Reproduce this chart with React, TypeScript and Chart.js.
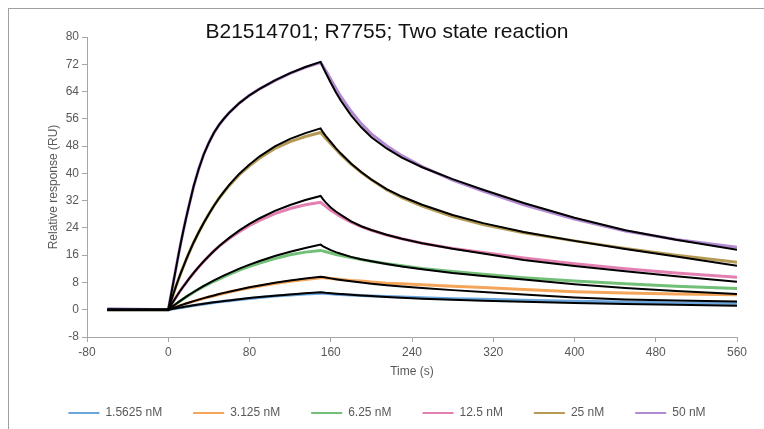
import React, { useEffect, useRef } from "react";
import { Chart, registerables } from "chart.js";

Chart.register(...registerables);

const TITLE = "B21514701; R7755; Two state reaction";
const X_TITLE = "Time (s)";
const Y_TITLE = "Relative response (RU)";
const SERIES_LABELS = ["1.5625 nM", "3.125 nM", "6.25 nM", "12.5 nM", "25 nM", "50 nM"];
const SERIES_COLORS = ["#6aa6dd", "#f5a55a", "#72bf78", "#e37fb1", "#b49a55", "#b28ad1"];

const X_MIN = -80;
const X_MAX = 560;
const X_STEP = 80;
const Y_MIN = -8;
const Y_MAX = 80;
const Y_STEP = 8;

// time points (s)
const TIMES = [-60, 0, 2.5, 5, 7.5, 10, 12.5, 15, 17.5, 20, 25, 30, 35, 40, 45, 50, 55, 60, 70, 80, 90, 105, 120, 135, 150, 152.5, 155, 160, 165, 170, 180, 190, 200, 215, 230, 250, 280, 310, 350, 400, 450, 500, 560];

// measured responses (RU)
const DATA_1_5625 = [0, 0, 0.13, 0.25, 0.38, 0.5, 0.63, 0.75, 0.88, 1.0, 1.22, 1.45, 1.68, 1.9, 2.1, 2.3, 2.48, 2.65, 2.98, 3.3, 3.6, 4.0, 4.35, 4.6, 4.85, 4.8, 4.75, 4.65, 4.57, 4.5, 4.35, 4.2, 4.05, 3.85, 3.7, 3.5, 3.25, 3.05, 2.8, 2.5, 2.25, 2.0, 1.8];
const DATA_3_125 = [0, 0, 0.27, 0.52, 0.78, 1.04, 1.28, 1.53, 1.77, 2.0, 2.45, 2.9, 3.32, 3.72, 4.1, 4.48, 4.85, 5.2, 5.82, 6.42, 6.95, 7.7, 8.35, 8.9, 9.4, 9.35, 9.3, 9.15, 9.02, 8.9, 8.6, 8.4, 8.1, 7.8, 7.6, 7.3, 6.9, 6.5, 5.9, 5.3, 4.9, 4.6, 4.4];
const DATA_6_25 = [0, 0, 0.57, 1.1, 1.65, 2.2, 2.7, 3.2, 3.7, 4.2, 5.1, 6.0, 6.85, 7.6, 8.35, 9.0, 9.7, 10.4, 11.6, 12.7, 13.7, 15.0, 16.1, 16.9, 17.4, 17.2, 17.0, 16.6, 16.2, 15.9, 15.3, 14.7, 14.2, 13.5, 12.9, 12.1, 11.2, 10.4, 9.4, 8.4, 7.6, 6.9, 6.2];
const DATA_12_5 = [0, 0, 1.24, 2.45, 3.61, 4.74, 5.85, 6.89, 7.9, 8.9, 10.78, 12.55, 14.23, 15.77, 17.24, 18.6, 19.75, 20.9, 22.9, 24.7, 26.2, 28.2, 29.7, 30.8, 31.5, 30.9, 30.3, 29.2, 28.2, 27.3, 25.7, 24.4, 23.3, 21.9, 20.8, 19.5, 18.0, 16.8, 15.2, 13.5, 12.0, 10.8, 9.5];
const DATA_25 = [0, 0, 2.36, 4.62, 6.79, 8.87, 10.86, 12.75, 14.6, 16.4, 19.73, 22.74, 25.5, 28.1, 30.5, 32.7, 34.6, 36.4, 39.6, 42.2, 44.5, 47.3, 49.3, 50.8, 52.0, 51.2, 50.3, 48.7, 47.1, 45.5, 42.7, 40.3, 38.1, 35.2, 32.9, 30.4, 27.3, 25.0, 22.6, 20.2, 18.0, 16.0, 13.9];
const DATA_50 = [0.3, 0, 4.0, 8.0, 12.0, 16.0, 19.8, 23.4, 26.8, 30.0, 36.2, 41.3, 45.6, 49.0, 51.9, 54.2, 56.1, 57.8, 60.6, 62.9, 64.8, 67.2, 69.3, 71.1, 72.5, 71.4, 70.2, 67.6, 65.0, 62.5, 58.2, 54.6, 51.6, 48.1, 45.2, 42.0, 38.0, 34.8, 30.8, 26.6, 23.1, 20.6, 18.3];

// fitted curves (RU)
const FIT_1_5625 = [0, 0, 0.14, 0.28, 0.41, 0.55, 0.68, 0.8, 0.93, 1.05, 1.29, 1.52, 1.74, 1.96, 2.16, 2.36, 2.55, 2.74, 3.09, 3.41, 3.71, 4.12, 4.48, 4.8, 5.1, 5.02, 4.95, 4.85, 4.72, 4.6, 4.4, 4.2, 4.0, 3.75, 3.5, 3.25, 2.9, 2.65, 2.35, 2.0, 1.7, 1.45, 1.2];
const FIT_3_125 = [0, 0, 0.28, 0.54, 0.81, 1.07, 1.32, 1.57, 1.82, 2.06, 2.52, 2.97, 3.4, 3.81, 4.2, 4.59, 4.95, 5.3, 5.96, 6.58, 7.13, 7.9, 8.58, 9.18, 9.7, 9.57, 9.45, 9.2, 8.97, 8.75, 8.35, 8.0, 7.65, 7.2, 6.8, 6.35, 5.75, 5.2, 4.5, 3.6, 3.0, 2.7, 2.4];
const FIT_6_25 = [0, 0, 0.58, 1.13, 1.68, 2.22, 2.74, 3.25, 3.76, 4.26, 5.2, 6.11, 6.97, 7.79, 8.58, 9.33, 10.06, 10.75, 12.04, 13.23, 14.31, 15.76, 17.02, 18.13, 19.1, 18.6, 18.2, 17.5, 16.9, 16.4, 15.5, 14.8, 14.2, 13.4, 12.7, 11.9, 10.8, 9.9, 8.9, 7.5, 6.4, 5.5, 4.6];
const FIT_12_5 = [0, 0, 1.24, 2.45, 3.61, 4.74, 5.85, 6.89, 7.9, 8.9, 10.78, 12.55, 14.23, 15.77, 17.24, 18.6, 19.89, 21.07, 23.26, 25.17, 26.84, 28.98, 30.73, 32.17, 33.38, 32.4, 31.5, 30.0, 28.8, 27.8, 25.9, 24.5, 23.4, 22.0, 20.8, 19.5, 17.9, 16.5, 14.6, 12.8, 11.3, 9.8, 8.2];
const FIT_25 = [0, 0, 2.36, 4.62, 6.79, 8.87, 10.86, 12.75, 14.6, 16.4, 19.73, 22.74, 25.5, 28.1, 30.5, 32.7, 34.7, 36.6, 39.9, 42.6, 45.0, 47.9, 50.1, 51.8, 53.2, 52.0, 51.0, 49.2, 47.4, 45.8, 42.9, 40.4, 38.2, 35.4, 33.2, 30.8, 27.8, 25.4, 22.8, 20.2, 17.8, 15.6, 12.9];
const FIT_50 = [0, 0, 4.0, 8.0, 12.0, 16.0, 19.8, 23.4, 26.8, 30.0, 36.2, 41.3, 45.6, 49.0, 51.9, 54.2, 56.1, 57.8, 60.6, 62.9, 64.8, 67.3, 69.4, 71.2, 72.7, 71.0, 69.5, 66.6, 63.8, 61.3, 57.0, 53.5, 50.6, 47.3, 44.6, 41.8, 38.3, 35.2, 31.3, 27.0, 23.3, 20.5, 17.6];

const MEASURED = [DATA_1_5625, DATA_3_125, DATA_6_25, DATA_12_5, DATA_25, DATA_50];
const FITTED = [FIT_1_5625, FIT_3_125, FIT_6_25, FIT_12_5, FIT_25, FIT_50];

const FONT = "'Liberation Sans', Arial, sans-serif";
const TEXT_COLOR = "#595959";
const AXIS_COLOR = "#a6a6a6";

export default function App() {
  const canvasRef = useRef<HTMLCanvasElement | null>(null);

  useEffect(() => {
    const canvas = canvasRef.current;
    if (!canvas) return;
    const toPoints = (vals: number[]) => TIMES.map((t, i) => ({ x: t, y: vals[i] }));

    const measuredSets = MEASURED.map((vals, i) => ({
      label: SERIES_LABELS[i],
      data: toPoints(vals),
      borderColor: SERIES_COLORS[i],
      backgroundColor: SERIES_COLORS[i],
      borderWidth: 3,
      pointRadius: 0,
      tension: 0,
      order: 1,
    }));
    const fitSets = FITTED.map((vals, i) => ({
      label: SERIES_LABELS[i] + " fit",
      data: toPoints(vals),
      borderColor: "#000000",
      backgroundColor: "#000000",
      borderWidth: 2,
      pointRadius: 0,
      tension: 0,
      order: 0,
    }));

    const chart = new Chart(canvas, {
      type: "line",
      data: { datasets: [...measuredSets, ...fitSets] as any },
      options: {
        responsive: false,
        animation: false,
        events: [],
        layout: { padding: { left: 28, right: 27, top: 0, bottom: 0 } },
        plugins: {
          title: {
            display: true,
            text: TITLE,
            color: "#111111",
            font: { family: FONT, size: 21, weight: "normal" as any },
            padding: { top: 11, bottom: -8.2 },
          },
          legend: {
            position: "bottom",
            labels: {
              boxWidth: 31,
              boxHeight: 2,
              padding: 31,
              color: TEXT_COLOR,
              font: { family: FONT, size: 12 },
              generateLabels: () =>
                SERIES_LABELS.map((text, i) => ({
                  text,
                  fillStyle: SERIES_COLORS[i],
                  strokeStyle: SERIES_COLORS[i],
                  lineWidth: 0,
                  hidden: false,
                  datasetIndex: i,
                  fontColor: TEXT_COLOR,
                })),
            },
          },
          tooltip: { enabled: false },
        },
        scales: {
          x: {
            type: "linear",
            min: X_MIN,
            max: X_MAX,
            ticks: { stepSize: X_STEP, color: TEXT_COLOR, font: { family: FONT, size: 12 }, padding: 3, maxRotation: 0 },
            grid: { display: true, drawOnChartArea: false, drawTicks: true, tickLength: 5, color: AXIS_COLOR },
            border: { display: true, color: AXIS_COLOR },
            title: { display: true, text: X_TITLE, color: TEXT_COLOR, font: { family: FONT, size: 12 }, padding: { top: 4, bottom: -3.2 } },
            afterFit: (s: any) => {
              s.height = 39;
            },
          },
          y: {
            type: "linear",
            min: Y_MIN,
            max: Y_MAX,
            ticks: { stepSize: Y_STEP, color: TEXT_COLOR, font: { family: FONT, size: 12 }, padding: 3 },
            grid: { display: true, drawOnChartArea: false, drawTicks: true, tickLength: 5, color: AXIS_COLOR },
            border: { display: true, color: AXIS_COLOR },
            title: { display: true, text: Y_TITLE, color: TEXT_COLOR, font: { family: FONT, size: 12 }, padding: { top: 9, bottom: 0 } },
            afterFit: (s: any) => {
              s.width = 50;
            },
          },
        },
      },
    });
    return () => chart.destroy();
  }, []);

  return (
    <div
      style={{
        position: "fixed",
        top: 8,
        left: 8,
        width: 755,
        height: 420,
        borderTop: "1px solid #a0a0a0",
        borderLeft: "1px solid #a0a0a0",
        background: "#ffffff",
      }}
    >
      <canvas ref={canvasRef} width={755} height={420} style={{ display: "block", width: 755, height: 420 }} />
    </div>
  );
}
